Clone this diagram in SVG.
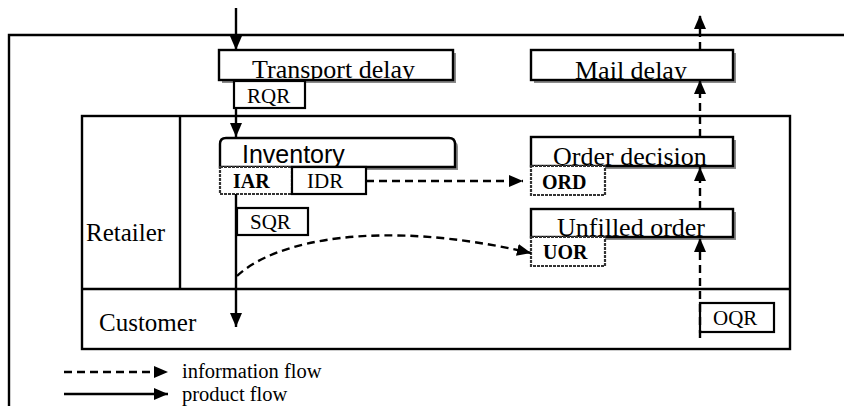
<svg xmlns="http://www.w3.org/2000/svg" width="844" height="406" viewBox="0 0 844 406">
<style>
.ln{fill:none;stroke:#000;stroke-width:2.4}
.box{fill:#fff;stroke:#000;stroke-width:2.4}
.sh{fill:#8a8a8a}
.lbl{fill:#fff;stroke:#000;stroke-width:2.2}
.lblg{fill:#fff;stroke:#333;stroke-width:2.2;stroke-dasharray:3 1}
.big{font-family:"Liberation Serif","Times New Roman",serif;font-size:26px;fill:#000}
.sans{font-family:"Liberation Sans",Arial,sans-serif;font-size:25px;fill:#000}
.sm{font-family:"Liberation Serif","Times New Roman",serif;font-size:21px;fill:#000}
.smb{font-family:"Liberation Serif","Times New Roman",serif;font-size:20px;font-weight:bold;fill:#000}
.mid{font-family:"Liberation Serif","Times New Roman",serif;font-size:25px;fill:#000}
.leg{font-family:"Liberation Serif","Times New Roman",serif;font-size:20.5px;fill:#000}
.dash{fill:none;stroke:#000;stroke-width:2.4;stroke-dasharray:8 5}
</style>
<defs>
<marker id="ah" viewBox="0 0 14 12" refX="14" refY="6" markerWidth="14" markerHeight="12" markerUnits="userSpaceOnUse" orient="auto">
<path d="M0,0 L14,6 L0,12 Z" fill="#000"/>
</marker>
<clipPath id="cTD"><rect x="219" y="50" width="234" height="30"/></clipPath>
<clipPath id="cMD"><rect x="531" y="50" width="202" height="30"/></clipPath>
<clipPath id="cINV"><rect x="220" y="138" width="235" height="29"/></clipPath>
<clipPath id="cOD"><rect x="531" y="137" width="202" height="29"/></clipPath>
<clipPath id="cUO"><rect x="531" y="209" width="202" height="28"/></clipPath>
</defs>

<g id="frames">
<path class="ln" d="M9,406 V35 H844"/>
<rect class="ln" x="82" y="116" width="708" height="233"/>
<line class="ln" x1="82" y1="289" x2="790" y2="289"/>
<line class="ln" x1="180" y1="116" x2="180" y2="289"/>
<text class="mid" x="86" y="241">Retailer</text>
<text class="mid" x="99" y="331">Customer</text>
</g>

<g id="transport-delay">
<rect class="sh" x="222" y="53" width="234" height="30"/>
<rect class="box" x="219" y="50" width="234" height="30"/>
<text class="big" x="252" y="78" clip-path="url(#cTD)">Transport delay</text>
</g>
<g id="rqr">
<rect class="lbl" x="234" y="81" width="71" height="27"/>
<text class="sm" x="247" y="103">RQR</text>
</g>

<g id="mail-delay">
<rect class="sh" x="534" y="53" width="202" height="30"/>
<rect class="box" x="531" y="50" width="202" height="30"/>
<text class="big" x="575" y="79" clip-path="url(#cMD)">Mail delay</text>
</g>

<g id="inventory">
<path class="sh" d="M226,141 H452 Q458,141 458,147 V170 H226 Z"/>
<path class="box" d="M220,167 V144 Q220,138 226,138 H449 Q455,138 455,144 V167 Z"/>
<text class="sans" x="242" y="163" clip-path="url(#cINV)">Inventory</text>
</g>
<g id="iar">
<rect class="lblg" x="220" y="167" width="72" height="27"/>
<text class="smb" x="233" y="188">IAR</text>
</g>
<g id="idr">
<rect class="lbl" x="292" y="167" width="74" height="27"/>
<text class="sm" x="307" y="188">IDR</text>
</g>

<g id="order-decision">
<rect class="sh" x="534" y="140" width="202" height="29"/>
<rect class="box" x="531" y="137" width="202" height="29"/>
<text class="big" x="553" y="165" clip-path="url(#cOD)">Order decision</text>
</g>
<g id="ord">
<rect class="lblg" x="531" y="166" width="74" height="29"/>
<text class="smb" x="542" y="189">ORD</text>
</g>

<g id="unfilled-order">
<rect class="sh" x="534" y="212" width="202" height="28"/>
<rect class="box" x="531" y="209" width="202" height="28"/>
<text class="big" x="557" y="236" clip-path="url(#cUO)">Unfilled order</text>
</g>
<g id="uor">
<rect class="lblg" x="531" y="237" width="74" height="29"/>
<text class="smb" x="543" y="259">UOR</text>
</g>

<g id="sqr">
<rect class="lbl" x="237" y="208" width="71" height="27"/>
<text class="sm" x="250" y="229">SQR</text>
</g>

<g id="oqr">
<rect class="lbl" x="700" y="303" width="74" height="29"/>
<text class="sm" x="713" y="325">OQR</text>
</g>

<g id="connectors">
<line class="ln" x1="236" y1="8" x2="236" y2="50" marker-end="url(#ah)"/>
<line class="ln" x1="236" y1="108" x2="236" y2="137" marker-end="url(#ah)"/>
<line class="ln" x1="236" y1="194" x2="236" y2="327" marker-end="url(#ah)"/>
<line class="dash" x1="366" y1="181" x2="523" y2="181" marker-end="url(#ah)"/>
<path class="dash" d="M237,276 C275,240 380,218 531,253" marker-end="url(#ah)"/>
<line class="dash" x1="700" y1="338" x2="700" y2="238" marker-end="url(#ah)"/>
<line class="dash" x1="700" y1="209" x2="700" y2="167" marker-end="url(#ah)"/>
<line class="dash" x1="700" y1="137" x2="700" y2="80" marker-end="url(#ah)"/>
<line class="dash" x1="700" y1="50" x2="700" y2="15" marker-end="url(#ah)"/>
</g>

<g id="legend">
<line class="dash" x1="64" y1="372" x2="168" y2="372" marker-end="url(#ah)"/>
<text class="leg" x="182" y="378">information flow</text>
<line class="ln" x1="64" y1="394" x2="168" y2="394" marker-end="url(#ah)"/>
<text class="leg" x="182" y="401">product flow</text>
</g>
</svg>
